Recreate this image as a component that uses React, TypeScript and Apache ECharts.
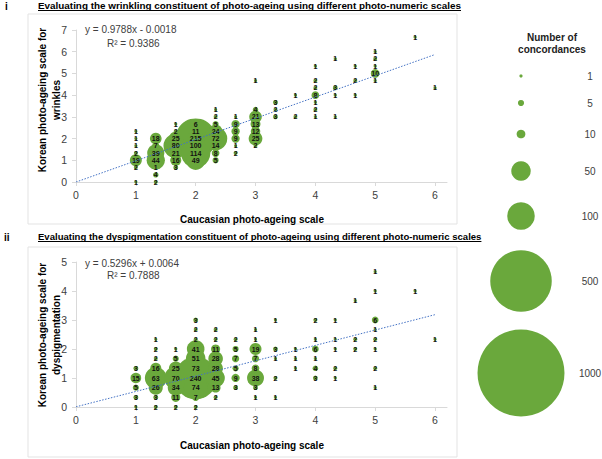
import React, { useEffect, useRef } from "react";
import * as echarts from "echarts";

// ---------- data ----------
const xTicks = [0, 1, 2, 3, 4, 5, 6];

// Panel i : wrinkling (Caucasian scale, Korean scale, number of concordances)
const wrinkleX = [
  1, 1, 1, 1, 1, 1, 1,
  1.333, 1.333, 1.333, 1.333, 1.333, 1.333, 1.333,
  1.667, 1.667, 1.667, 1.667, 1.667, 1.667, 1.667,
  2, 2, 2, 2, 2, 2,
  2.333, 2.333, 2.333, 2.333, 2.333, 2.333, 2.333, 2.333,
  2.667, 2.667, 2.667, 2.667, 2.667, 2.667,
  3, 3, 3, 3, 3, 3, 3,
  3.333, 3.333, 3.333,
  3.667, 3.667,
  4, 4, 4, 4, 4, 4, 4,
  4.333, 4.333, 4.333, 4.333,
  4.667, 4.667, 4.667,
  5, 5, 5, 5, 5,
  5.667,
  6,
];
const wrinkleY = [
  2.333, 2, 1.667, 1.333, 1, 0.667, 0,
  2, 1.667, 1.333, 1, 0.667, 0.333, 0,
  2.667, 2.333, 2, 1.667, 1.333, 1, 0.667,
  2.667, 2.333, 2, 1.667, 1.333, 1,
  3.333, 3, 2.667, 2.333, 2, 1.667, 1.333, 1,
  3, 2.667, 2.333, 2, 1.667, 1.333,
  4.667, 3.333, 3, 2.667, 2.333, 2, 1.667,
  3.667, 3.333, 3,
  4, 3,
  5.333, 4.667, 4.333, 4, 3.667, 3.333, 3,
  5.667, 4.333, 4, 3,
  5.333, 4.667, 4,
  6, 5.667, 5.333, 5, 4.667,
  6.667,
  4.333,
];
const wrinkleN = [
  1, 1, 1, 2, 19, 2, 1,
  18, 7, 39, 44, 1, 4, 2,
  1, 2, 25, 80, 21, 16, 3,
  6, 11, 215, 100, 114, 49,
  1, 2, 5, 24, 72, 14, 8, 5,
  1, 9, 9, 9, 1, 2,
  1, 4, 21, 13, 12, 25, 2,
  3, 2, 3,
  1, 2,
  1, 2, 2, 8, 1, 2, 1,
  1, 3, 1, 1,
  1, 2, 1,
  1, 2, 1, 10, 1,
  1,
  1,
];

// Panel ii : dyspigmentation
const pigmentX = [
  1, 1, 1, 1, 1,
  1.333, 1.333, 1.333, 1.333, 1.333, 1.333, 1.333, 1.333,
  1.667, 1.667, 1.667, 1.667, 1.667, 1.667, 1.667,
  2, 2, 2, 2, 2, 2, 2, 2, 2, 2,
  2.333, 2.333, 2.333, 2.333, 2.333, 2.333, 2.333, 2.333,
  2.667, 2.667, 2.667, 2.667, 2.667, 2.667,
  3, 3, 3, 3, 3, 3, 3, 3,
  3.333, 3.333, 3.333, 3.333, 3.333,
  3.667, 3.667, 3.667,
  4, 4, 4, 4, 4, 4,
  4.333, 4.333, 4.333, 4.333, 4.333,
  4.667, 4.667, 4.667,
  5, 5, 5, 5, 5, 5, 5, 5,
  5.667,
  6,
];
const pigmentY = [
  1.333, 1, 0.667, 0.333, 0,
  2.333, 2, 1.667, 1.333, 1, 0.667, 0.333, 0,
  2, 1.667, 1.333, 1, 0.667, 0.333, 0,
  3, 2.667, 2.333, 2, 1.667, 1.333, 1, 0.667, 0.333, 0,
  2.667, 2.333, 2, 1.667, 1.333, 1, 0.667, 0.333,
  2.333, 2, 1.667, 1.333, 1, 0.667,
  2.667, 2.333, 2, 1.667, 1.333, 1, 0.667, 0.333,
  3, 2, 1.667, 1, 0.333,
  2, 1.667, 1.333,
  3, 2.333, 2, 1.667, 1.333, 1,
  3, 2.333, 2, 1.333, 1,
  3.667, 2.333, 2,
  4.667, 4, 3, 2.667, 2.333, 2, 1.333, 0.667,
  4,
  2.333,
];
const pigmentN = [
  3, 15, 5, 3, 1,
  1, 2, 2, 16, 63, 26, 3, 2,
  1, 5, 25, 70, 34, 11, 2,
  3, 2, 2, 41, 51, 73, 240, 74, 7, 2,
  2, 2, 11, 28, 28, 45, 13, 2,
  2, 5, 7, 5, 9, 3,
  1, 1, 19, 7, 8, 38, 3, 1,
  1, 3, 1, 2, 1,
  1, 1, 1,
  2, 1, 6, 1, 4, 3,
  1, 1, 1, 2, 1,
  1, 2, 2,
  1, 1, 6, 1, 2, 1, 2, 1,
  1,
  1,
];

const wrinkleFit = { slope: 0.9788, intercept: -0.0018 };
const pigmentFit = { slope: 0.5296, intercept: 0.0064 };
const legendValues = [1, 5, 10, 50, 100, 500, 1000];

// ---------- styles ----------
const GREEN = "#6aa83c";
const FONT = "'Liberation Sans', Arial, sans-serif";
const AXIS_GREY = "#d9d9d9";
const TXT = "#404040";

const bubble = (v: number) => Math.max(3.2, 2.75 * Math.sqrt(v));

function measure(text: string, font: string) {
  const ctx = document.createElement("canvas").getContext("2d");
  if (!ctx) return text.length * 5;
  ctx.font = font;
  return ctx.measureText(text).width;
}

export default function App() {
  const ref = useRef<HTMLDivElement>(null);

  useEffect(() => {
    if (!ref.current) return;
    const chart = echarts.init(ref.current, undefined, { renderer: "svg" });

    const xAxisBase = (gridIndex: number) => ({
      type: "value",
      gridIndex,
      min: 0,
      max: 6.2,
      interval: 1,
      splitLine: { show: false },
      axisLine: { show: true, lineStyle: { color: AXIS_GREY, width: 1 } },
      axisTick: { show: true, customValues: xTicks, length: 4, lineStyle: { color: AXIS_GREY } },
      axisLabel: { customValues: xTicks, fontSize: 10.5, color: TXT, fontFamily: FONT, margin: 7 },
    });
    const yAxisBase = (gridIndex: number, max: number) => ({
      type: "value",
      gridIndex,
      min: 0,
      max,
      interval: 1,
      splitLine: { show: false },
      axisLine: { show: true, lineStyle: { color: AXIS_GREY, width: 1 } },
      axisTick: { show: true, length: 4, lineStyle: { color: AXIS_GREY } },
      axisLabel: { fontSize: 10.5, color: TXT, fontFamily: FONT, margin: 9 },
    });

    const scatter = (idx: number, xs: number[], ys: number[], ns: number[]) => ({
      type: "scatter",
      xAxisIndex: idx,
      yAxisIndex: idx,
      z: 2,
      data: xs.map((x, i) => [x, ys[i], ns[i]]),
      symbolSize: (d: number[]) => bubble(d[2]),
      itemStyle: { color: GREEN, opacity: 1 },
      label: {
        show: true,
        position: "inside",
        formatter: (p: any) => String(p.data[2]),
        fontSize: 7,
        fontWeight: "bold",
        color: "#111",
        fontFamily: FONT,
      },
      emphasis: { disabled: true },
    });
    const fitLine = (idx: number, fit: { slope: number; intercept: number }) => ({
      type: "line",
      xAxisIndex: idx,
      yAxisIndex: idx,
      z: 3,
      symbol: "none",
      data: [
        [0, fit.intercept],
        [6, fit.slope * 6 + fit.intercept],
      ],
      lineStyle: { color: "#4472c4", width: 1, type: [1.5, 1.5] },
      silent: true,
    });

    const t1 = "Evaluating the wrinkling constituent of photo-ageing using different photo-numeric scales";
    const t2 = "Evaluating the dyspigmentation constituent of photo-ageing using different photo-numeric scales";
    const fs1 = 9.9;
    const fs2 = 9.55;
    const w1 = measure(t1, `bold ${fs1}px ${FONT}`);
    const w2 = measure(t2, `bold ${fs2}px ${FONT}`);

    const txt = (x: number, y: number, text: string, o: any = {}) => ({
      type: "text",
      x,
      y,
      rotation: o.rotation || 0,
      silent: true,
      style: {
        text,
        fontSize: o.fontSize || 10,
        fontWeight: o.fontWeight || "normal",
        fontFamily: FONT,
        fill: o.fill || TXT,
        align: o.align || "left",
        verticalAlign: "middle",
        lineHeight: o.lineHeight,
      },
    });

    const legendY = [76, 103, 134, 171, 216, 281, 373];

    const graphics: any[] = [
      { type: "rect", shape: { x: 28, y: 14, width: 429, height: 210 }, style: { fill: "none", stroke: "#e3e3e3", lineWidth: 1 }, silent: true },
      { type: "rect", shape: { x: 28, y: 247, width: 429, height: 210 }, style: { fill: "none", stroke: "#e3e3e3", lineWidth: 1 }, silent: true },
      txt(5, 6, "i", { fontWeight: "bold", fontSize: 10, fill: "#000" }),
      txt(4, 237, "ii", { fontWeight: "bold", fontSize: 10, fill: "#000" }),
      txt(38, 5.5, t1, { fontWeight: "bold", fontSize: fs1, fill: "#000" }),
      txt(38, 236.5, t2, { fontWeight: "bold", fontSize: fs2, fill: "#000" }),
      { type: "line", shape: { x1: 38, y1: 10.5, x2: 38 + w1, y2: 10.5 }, style: { stroke: "#000", lineWidth: 1 }, silent: true },
      { type: "line", shape: { x1: 38, y1: 241.5, x2: 38 + w2, y2: 241.5 }, style: { stroke: "#000", lineWidth: 1 }, silent: true },
      txt(85, 29, "y = 0.9788x - 0.0018", { fontSize: 10 }),
      txt(107, 43, "R² = 0.9386", { fontSize: 10 }),
      txt(85, 263, "y = 0.5296x + 0.0064", { fontSize: 10 }),
      txt(107, 275, "R² = 0.7888", { fontSize: 10 }),
      txt(252, 219, "Caucasian photo-ageing scale", { fontWeight: "bold", fontSize: 10, fill: "#000", align: "center" }),
      txt(252, 445, "Caucasian photo-ageing scale", { fontWeight: "bold", fontSize: 10, fill: "#000", align: "center" }),
      txt(49, 100, "Korean photo-ageing scale for\nwrinkles", { fontWeight: "bold", fontSize: 10, fill: "#000", align: "center", rotation: Math.PI / 2, lineHeight: 14 }),
      txt(49, 335, "Korean photo-ageing scale for\ndyspigmentation", { fontWeight: "bold", fontSize: 10, fill: "#000", align: "center", rotation: Math.PI / 2, lineHeight: 14 }),
      txt(552, 37, "Number of", { fontWeight: "bold", fontSize: 10, fill: "#222", align: "center" }),
      txt(552, 49, "concordances", { fontWeight: "bold", fontSize: 10, fill: "#222", align: "center" }),
    ];
    legendValues.forEach((v, i) => {
      graphics.push({
        type: "circle",
        shape: { cx: 521, cy: legendY[i], r: bubble(v) / 2 },
        style: { fill: GREEN },
        silent: true,
      });
      graphics.push(txt(590, legendY[i], String(v), { fontSize: 10, align: "center" }));
    });

    chart.setOption({
      animation: false,
      textStyle: { fontFamily: FONT },
      grid: [
        { left: 76, top: 30, width: 371, height: 152 },
        { left: 76, top: 262, width: 371, height: 145 },
      ],
      xAxis: [xAxisBase(0), xAxisBase(1)],
      yAxis: [yAxisBase(0, 7), yAxisBase(1, 5)],
      series: [
        scatter(0, wrinkleX, wrinkleY, wrinkleN),
        fitLine(0, wrinkleFit),
        scatter(1, pigmentX, pigmentY, pigmentN),
        fitLine(1, pigmentFit),
      ],
      graphic: graphics,
    });

    return () => chart.dispose();
  }, []);

  return (
    <div
      ref={ref}
      style={{ position: "absolute", left: 0, top: 0, width: 602, height: 459, background: "#fff" }}
    />
  );
}
